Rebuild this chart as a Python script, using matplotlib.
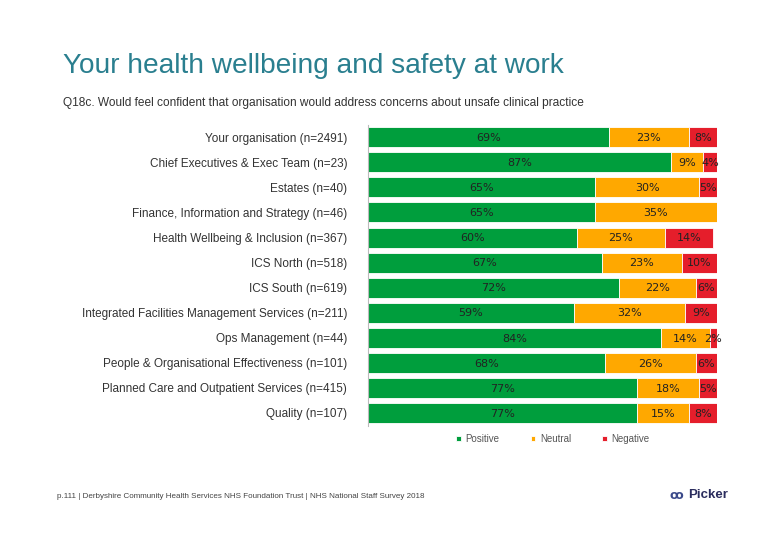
import matplotlib.pyplot as plt
import numpy as np

plt.rcParams['font.family'] = ['Liberation Sans', 'DejaVu Sans']

# data
groups = ["Your organisation (n=2491)", "Chief Executives & Exec Team (n=23)",
          "Estates (n=40)", "Finance, Information and Strategy (n=46)",
          "Health Wellbeing & Inclusion (n=367)", "ICS North (n=518)",
          "ICS South (n=619)", "Integrated Facilities Management Services (n=211)",
          "Ops Management (n=44)", "People & Organisational Effectiveness (n=101)",
          "Planned Care and Outpatient Services (n=415)", "Quality (n=107)"]
positive = [69, 87, 65, 65, 60, 67, 72, 59, 84, 68, 77, 77]
neutral = [23, 9, 30, 35, 25, 23, 22, 32, 14, 26, 18, 15]
negative = [8, 4, 5, 0, 14, 10, 6, 9, 2, 6, 5, 8]

series = ["Positive", "Neutral", "Negative"]
colors = ["#009E3D", "#FFA800", "#E51E2B"]

fig = plt.figure(figsize=(7.8, 5.4), dpi=100)
ax = fig.add_axes([0.472, 0.212, 0.447, 0.557])

y = np.arange(len(groups))
left = np.zeros(len(groups))
for vals, name, col in zip([positive, neutral, negative], series, colors):
    vals = np.array(vals)
    ax.barh(y, vals, left=left, height=0.8, color=col, edgecolor="white",
            linewidth=0.6, label=name)
    for yi, l, v in zip(y, left, vals):
        if v > 0:
            ax.text(l + v / 2, yi + 0.03, f"{v}%", ha="center", va="center",
                    fontsize=8, color="#222222", family="DejaVu Sans")
    left = left + vals

ax.set_xlim(0, 100)
ax.set_ylim(len(groups) - 0.5, -0.5)
ax.set_xticks([])
ax.set_yticks(y)
ax.set_yticklabels(groups, fontsize=8.5, color="#333333")
ax.tick_params(axis="y", length=0, pad=15)
for s in ["top", "right", "bottom"]:
    ax.spines[s].set_visible(False)
ax.spines["left"].set_color("#BBBBBB")
ax.spines["left"].set_linewidth(0.8)

leg = ax.legend(loc="upper center", bbox_to_anchor=(0.53, 0.0), ncol=3,
                frameon=False, fontsize=7, handlelength=0.45, handleheight=0.45,
                columnspacing=3.2, handletextpad=0.5)
for t in leg.get_texts():
    t.set_color("#555555")

fig.text(0.081, 0.878, "Your health wellbeing and safety at work", fontsize=20.2,
         color="#2A7F8F", va="center")
fig.text(0.081, 0.809, "Q18c. Would feel confident that organisation would address concerns about unsafe clinical practice",
         fontsize=8.6, color="#333333", va="center")
fig.text(0.073, 0.080, "p.111 | Derbyshire Community Health Services NHS Foundation Trust | NHS National Staff Survey 2018",
         fontsize=5.8, color="#444444", va="center")
fig.text(0.882, 0.083, "Picker", fontsize=9.5, fontweight="bold", color="#2B2D5E", va="center")
fig.text(0.858, 0.083, "ꝏ", fontsize=9, fontweight="bold", color="#3B4A8A", va="center",
         family="DejaVu Sans")

fig.savefig("out.png", dpi=100)
